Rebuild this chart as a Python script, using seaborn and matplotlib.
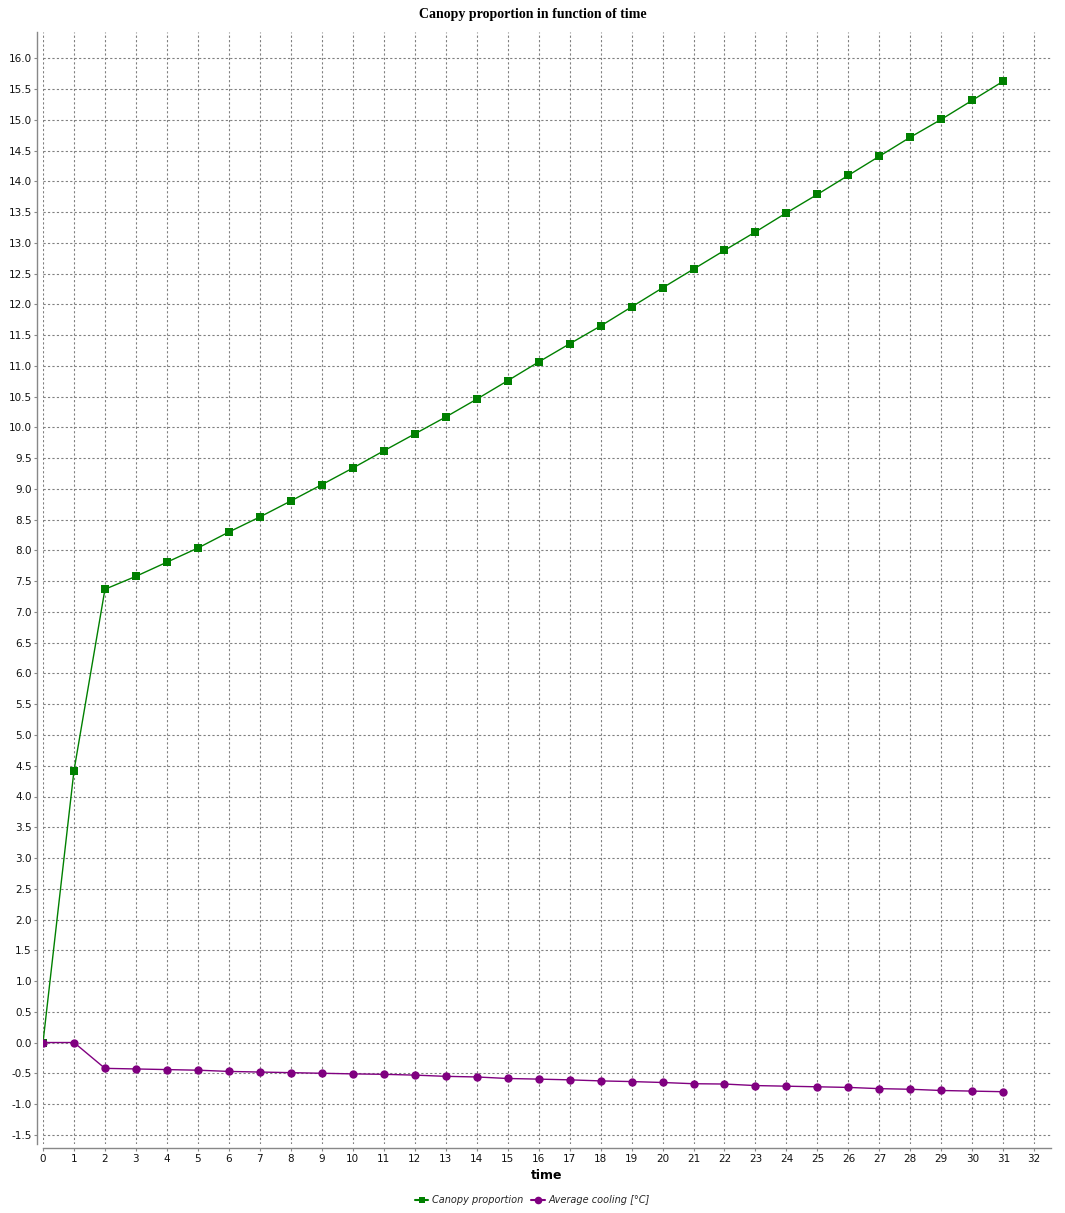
import numpy as np
import matplotlib.pyplot as plt
import seaborn as sns
import pandas as pd
from matplotlib.lines import Line2D

# values
time = list(range(32))
canopy = [0.0, 4.42, 7.37, 7.58, 7.81, 8.04, 8.30, 8.545, 8.805, 9.07,
          9.34, 9.62, 9.895, 10.17, 10.46, 10.76, 11.065, 11.36, 11.65, 11.96,
          12.27, 12.575, 12.88, 13.18, 13.49, 13.79, 14.10, 14.41, 14.72, 15.01,
          15.32, 15.63]
cooling = [0.0, 0.0, -0.42, -0.43, -0.44, -0.45, -0.47, -0.48, -0.49, -0.50,
           -0.51, -0.517, -0.53, -0.55, -0.56, -0.585, -0.595, -0.607, -0.624, -0.635,
           -0.65, -0.67, -0.675, -0.70, -0.71, -0.72, -0.73, -0.75, -0.76, -0.78,
           -0.79, -0.80]
x_ticks = list(range(33))
y_ticks = [v / 2 for v in range(-3, 33)]

df = pd.DataFrame({'time': time, 'Canopy proportion': canopy,
                   'Average cooling [°C]': cooling})

green = '#008000'
purple = '#800080'

sns.set_style("white")
plt.rcParams['font.family'] = ['DejaVu Sans']

fig = plt.figure(figsize=(10.65, 12.13), dpi=100)
ax = fig.add_axes([43 / 1065, 1 - 1144 / 1213, (1051 - 43) / 1065, (1144 - 32) / 1213])

sns.lineplot(data=df, x='time', y='Canopy proportion', ax=ax, color=green,
             marker='s', markersize=5.2, markeredgewidth=0, linewidth=1.0)
sns.lineplot(data=df, x='time', y='Average cooling [°C]', ax=ax, color=purple,
             marker='o', markersize=6, markeredgewidth=0, linewidth=1.0)

ax.set_xlim(0, 32.54)
ax.set_ylim(-1.65, 16.43)
ax.set_xticks(x_ticks)
ax.set_yticks(y_ticks)
ax.set_yticklabels([f'{v:.1f}' for v in y_ticks])
ax.grid(True, color='#808080', linestyle=(0, (2, 2)), linewidth=0.8)
ax.set_axisbelow(True)

for s in ['top', 'right']:
    ax.spines[s].set_visible(False)
for s in ['left', 'bottom']:
    ax.spines[s].set_color('#888888')
    ax.spines[s].set_linewidth(1.0)
ax.spines['left'].set_position(('outward', 4))
ax.spines['bottom'].set_position(('outward', 3))
ax.tick_params(axis='both', which='both', direction='out', length=2, width=0.8,
               color='#888888', labelsize=7.5, labelcolor='#111111', pad=2,
               left=True, bottom=True)

ax.set_xlabel('time', fontsize=9, fontweight='bold', labelpad=4, color='black')
ax.set_ylabel('')

fig.suptitle('Canopy proportion in function of time', y=0.9935, fontsize=10,
             fontweight='bold', family='Liberation Serif', color='black')

handles = [Line2D([0], [0], color=green, alpha=0.7, lw=1.5, marker='s',
                  markersize=5, markerfacecolor=green, markeredgewidth=0),
           Line2D([0], [0], color=purple, alpha=0.7, lw=1.5, marker='o',
                  markersize=5.5, markerfacecolor=purple, markeredgewidth=0)]
leg = fig.legend(handles, ['Canopy proportion', 'Average cooling [°C]'],
                 loc='center', bbox_to_anchor=(0.5, 1 - 1200 / 1213), ncol=2,
                 frameon=False, handlelength=1.4, handletextpad=0.4,
                 columnspacing=0.8, prop={'size': 7, 'style': 'italic'})
for h in leg.legend_handles:
    h.set_alpha(None)

fig.savefig('out.png', dpi=100)
